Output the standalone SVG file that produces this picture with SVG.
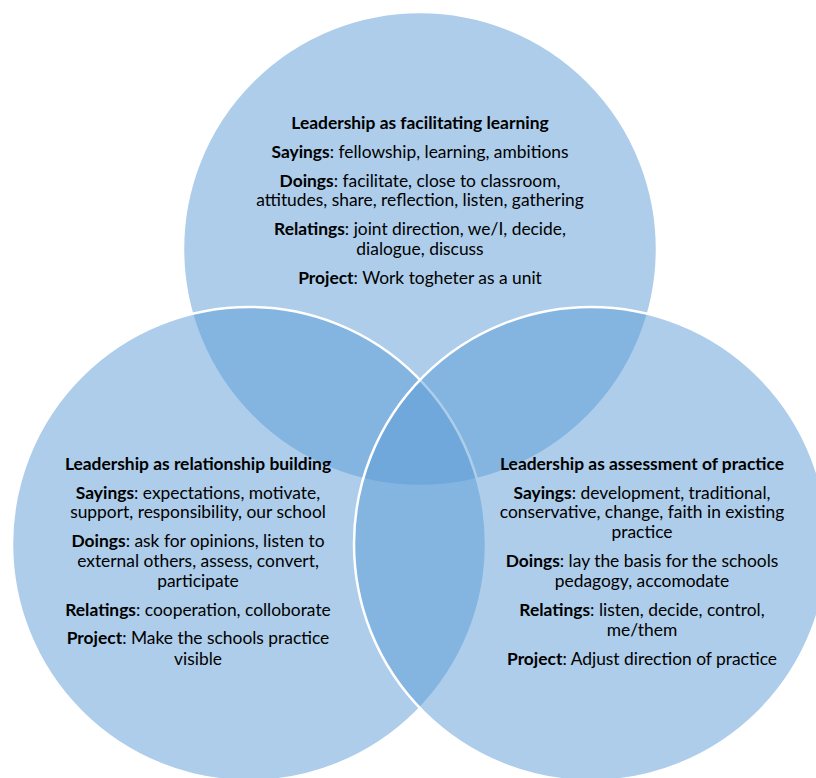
<svg xmlns="http://www.w3.org/2000/svg" width="816" height="778" viewBox="0 0 816 778">
<style>
.c{fill:#5B9BD5;fill-opacity:0.5;stroke:#FFFFFF;stroke-width:2.5}
text{font-family:Lato,"Liberation Sans",Arial,sans-serif;font-size:17.4px;fill:#000;text-anchor:middle}
.b{font-weight:bold}
</style>
<rect width="816" height="778" fill="#fff"/>
<g id="facilitating">
<circle class="c" cx="420" cy="249" r="237"/>
<text x="420" y="129" class="b">Leadership as facilitating learning</text>
<text x="420" y="158"><tspan class="b">Sayings</tspan>: fellowship, learning, ambitions</text>
<text x="420" y="187"><tspan class="b">Doings</tspan>: facilitate, close to classroom,</text>
<text x="420" y="206">attitudes, share, reflection, listen, gathering</text>
<text x="420" y="235"><tspan class="b">Relatings</tspan>: joint direction, we/I, decide,</text>
<text x="420" y="255">dialogue, discuss</text>
<text x="420" y="284"><tspan class="b">Project</tspan>: Work togheter as a unit</text>
</g>
<g id="relationship">
<circle class="c" cx="249" cy="544" r="237"/>
<text x="198" y="470" class="b">Leadership as relationship building</text>
<text x="198" y="499"><tspan class="b">Sayings</tspan>: expectations, motivate,</text>
<text x="198" y="518">support, responsibility, our school</text>
<text x="198" y="547"><tspan class="b">Doings</tspan>: ask for opinions, listen to</text>
<text x="198" y="567">external others, assess, convert,</text>
<text x="198" y="587">participate</text>
<text x="198" y="616"><tspan class="b">Relatings</tspan>: cooperation, colloborate</text>
<text x="198" y="644"><tspan class="b">Project</tspan>: Make the schools practice</text>
<text x="198" y="665">visible</text>
</g>
<g id="assessment">
<circle class="c" cx="591" cy="544" r="237"/>
<text x="642" y="470" class="b">Leadership as assessment of practice</text>
<text x="642" y="499"><tspan class="b">Sayings</tspan>: development, traditional,</text>
<text x="642" y="518">conservative, change, faith in existing</text>
<text x="642" y="538">practice</text>
<text x="642" y="567"><tspan class="b">Doings</tspan>: lay the basis for the schools</text>
<text x="642" y="587">pedagogy, accomodate</text>
<text x="642" y="616"><tspan class="b">Relatings</tspan>: listen, decide, control,</text>
<text x="642" y="636">me/them</text>
<text x="642" y="665"><tspan class="b">Project</tspan>: Adjust direction of practice</text>
</g>
<g id="connectors"/>
</svg>
